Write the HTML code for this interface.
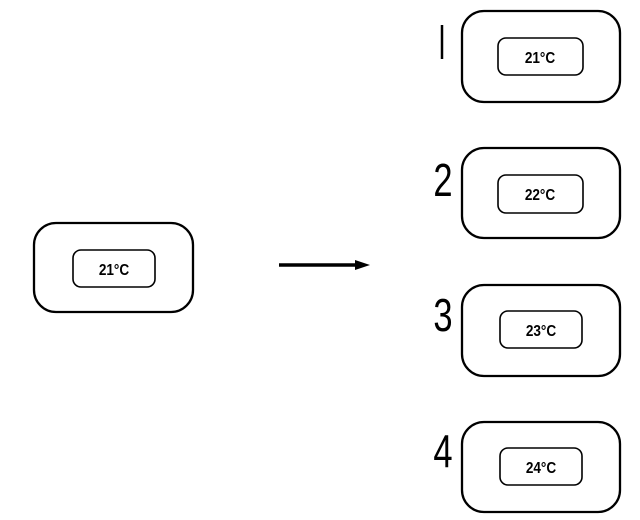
<!DOCTYPE html>
<html><head><meta charset="utf-8"><style>
html,body{margin:0;padding:0;background:#fff;width:640px;height:520px;overflow:hidden}
svg{display:block}
</style></head><body>
<svg width="640" height="520" viewBox="0 0 640 520" xmlns="http://www.w3.org/2000/svg" font-family="Liberation Sans, sans-serif">
<g fill="none" stroke="#000" stroke-width="2.3">
<rect x="34" y="223" width="159" height="89" rx="22"/>
<rect x="73" y="250" width="82" height="37" rx="8" stroke-width="1.6"/>
<rect x="462" y="11" width="158" height="91" rx="22"/>
<rect x="498" y="38" width="85" height="37" rx="8" stroke-width="1.6"/>
<rect x="462" y="148" width="158" height="90" rx="22"/>
<rect x="498" y="175" width="85" height="38" rx="8" stroke-width="1.6"/>
<rect x="462" y="285" width="158" height="91" rx="22"/>
<rect x="500" y="311" width="82" height="37" rx="8" stroke-width="1.6"/>
<rect x="462" y="422" width="158" height="90" rx="22"/>
<rect x="500" y="448" width="82" height="37" rx="8" stroke-width="1.6"/>
<line x1="279" y1="265" x2="360" y2="265" stroke-width="3.5"/>
<line x1="442" y1="25" x2="442" y2="59" stroke-width="2.5"/>
</g>
<polygon points="355,260 370,265 355,270" fill="#000"/>
<g font-size="16" font-weight="bold" text-anchor="middle" fill="#000">
<text transform="translate(114,275) scale(0.85,1)">21°C</text>
<text transform="translate(540,63) scale(0.85,1)">21°C</text>
<text transform="translate(540,200) scale(0.85,1)">22°C</text>
<text transform="translate(541,336) scale(0.85,1)">23°C</text>
<text transform="translate(541,473) scale(0.85,1)">24°C</text>
</g>
<g font-size="46" fill="#000" text-anchor="middle">
<text transform="translate(443,196) scale(0.75,1)">2</text>
<text transform="translate(443,331) scale(0.75,1)">3</text>
<text transform="translate(443,467) scale(0.75,1)">4</text>
</g>
</svg>
</body></html>
